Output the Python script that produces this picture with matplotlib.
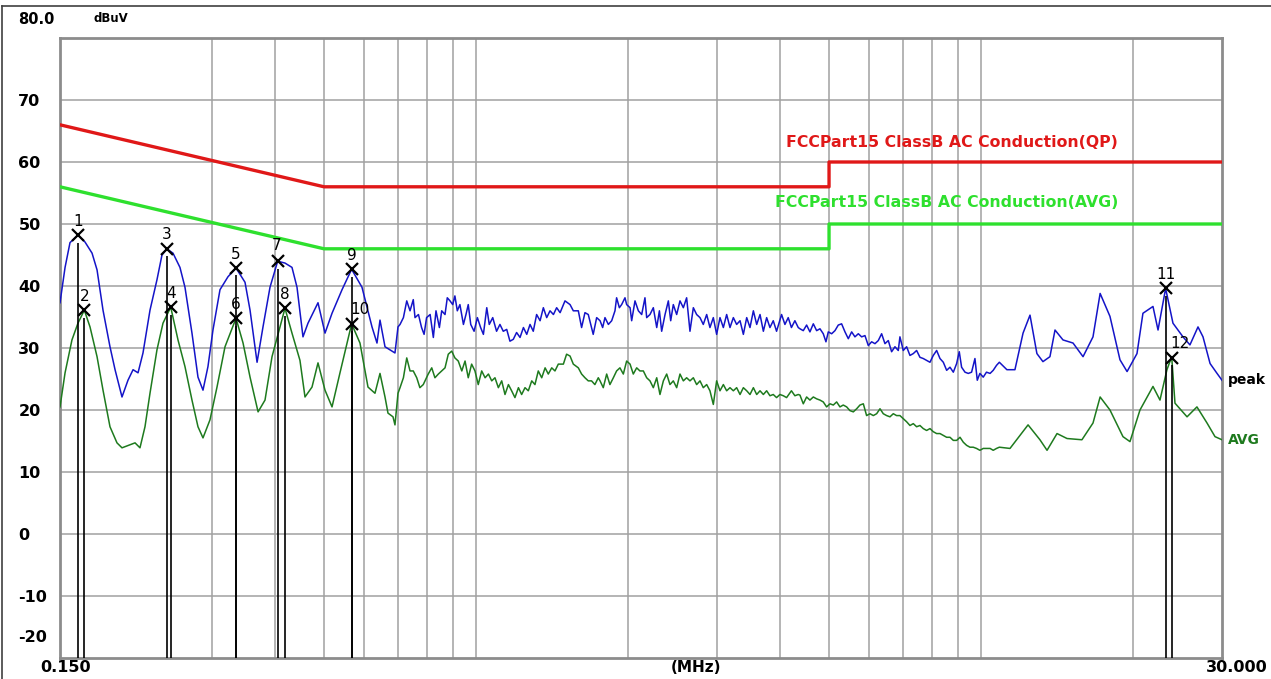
import matplotlib.pyplot as plt
from matplotlib.lines import Line2D

plt.rcParams['font.family'] = 'DejaVu Sans'

# peak trace, (MHz, dBuV)
peak_pts = [
    (0.150, 37.3), (0.1535, 43.0), (0.157, 47.0), (0.1628, 48.2), (0.1681, 47.1), (0.1736, 45.3),
    (0.1776, 42.6), (0.1825, 36.1), (0.1884, 30.2), (0.1928, 26.5), (0.199, 22.1), (0.2045, 24.8),
    (0.2093, 26.5), (0.2141, 26.0), (0.219, 29.2), (0.2261, 36.1), (0.2334, 41.0), (0.2388, 45.0),
    (0.244, 46.0), (0.2511, 45.3), (0.2592, 43.0), (0.2652, 39.8), (0.2738, 32.4), (0.2814, 25.3),
    (0.2879, 23.2), (0.2945, 27.0), (0.3013, 32.9), (0.3111, 39.4), (0.3227, 41.5), (0.3347, 42.9),
    (0.3487, 40.6), (0.3568, 36.1), (0.3684, 27.7), (0.3785, 33.4), (0.3908, 39.8), (0.4047, 44.0),
    (0.4184, 43.7), (0.432, 43.0), (0.442, 39.8), (0.4542, 31.8), (0.4647, 34.0), (0.4864, 37.3),
    (0.5022, 32.4), (0.5185, 35.6), (0.5427, 39.4), (0.567, 42.7), (0.5944, 39.8), (0.6222, 33.4),
    (0.6365, 30.8), (0.6453, 34.5), (0.6602, 30.2), (0.6909, 29.2), (0.7005, 33.4),
    (0.707, 33.8), (0.718, 34.9), (0.729, 37.6), (0.740, 36.0), (0.751, 37.8), (0.757, 34.9),
    (0.769, 35.4), (0.780, 33.3), (0.789, 32.2), (0.798, 34.9), (0.811, 35.4), (0.823, 31.7),
    (0.833, 36.0), (0.846, 33.3), (0.855, 36.0), (0.868, 35.4), (0.877, 38.1), (0.888, 37.6),
    (0.899, 37.0), (0.908, 38.4), (0.918, 36.0), (0.929, 37.0), (0.944, 33.8), (0.955, 35.4),
    (0.965, 37.0), (0.976, 33.8), (0.991, 32.7), (1.006, 34.9), (1.021, 33.3), (1.034, 32.2),
    (1.050, 36.5), (1.062, 33.8), (1.079, 34.9), (1.098, 32.7), (1.115, 33.8), (1.132, 32.7),
    (1.150, 33.0), (1.167, 31.1), (1.185, 31.4), (1.203, 32.5), (1.222, 31.7), (1.241, 33.3),
    (1.260, 32.2), (1.279, 33.8), (1.298, 32.7), (1.318, 35.4), (1.339, 34.4), (1.359, 36.5),
    (1.380, 34.9), (1.401, 36.0), (1.423, 35.4), (1.444, 36.5), (1.467, 35.7), (1.500, 37.6),
    (1.535, 37.0), (1.558, 36.0), (1.594, 36.0), (1.618, 33.3), (1.643, 35.7), (1.668, 35.4),
    (1.706, 32.2), (1.733, 34.9),
    (1.760, 34.4), (1.781, 33.3), (1.800, 34.9), (1.828, 33.8), (1.856, 34.4), (1.884, 36.0),
    (1.898, 38.1), (1.922, 36.5), (1.942, 37.0), (1.972, 38.1), (1.987, 37.0), (2.018, 36.5),
    (2.033, 34.4), (2.064, 37.6), (2.096, 36.0), (2.128, 35.4), (2.160, 38.1), (2.177, 34.9),
    (2.210, 35.4), (2.244, 36.5), (2.279, 33.3), (2.307, 36.0), (2.331, 32.7), (2.367, 35.4),
    (2.403, 37.6), (2.429, 34.4), (2.458, 37.0), (2.496, 35.4), (2.534, 37.6), (2.573, 36.5),
    (2.612, 38.1), (2.652, 32.7), (2.693, 36.5), (2.734, 35.4), (2.776, 34.9), (2.818, 33.8),
    (2.862, 35.4), (2.905, 33.3), (2.950, 34.9), (2.995, 32.2), (3.041, 34.9), (3.088, 33.3),
    (3.135, 35.4), (3.183, 33.3), (3.232, 34.9), (3.281, 33.8), (3.332, 34.4), (3.383, 32.2),
    (3.435, 34.9), (3.487, 33.3), (3.541, 36.0), (3.595, 33.8), (3.650, 35.4), (3.706, 32.7),
    (3.762, 34.9), (3.819, 33.3), (3.877, 34.4), (3.936, 32.7), (4.027, 35.4), (4.089, 33.8),
    (4.151, 34.9), (4.212, 33.3), (4.279, 34.4), (4.345, 33.3),
    (4.379, 33.1), (4.446, 32.8), (4.514, 33.7), (4.583, 32.6), (4.654, 33.9), (4.725, 32.8),
    (4.797, 33.1), (4.870, 32.3), (4.930, 31.0), (4.983, 32.6), (5.060, 32.3), (5.137, 32.8),
    (5.215, 33.7), (5.295, 33.9), (5.377, 32.6), (5.459, 31.5), (5.543, 32.6), (5.627, 31.8),
    (5.714, 32.3), (5.801, 31.8), (5.890, 32.0), (5.980, 30.4), (6.072, 31.0), (6.165, 30.7),
    (6.259, 31.2), (6.355, 32.3), (6.452, 30.7), (6.551, 31.2), (6.651, 29.4), (6.753, 30.2),
    (6.856, 29.6), (6.908, 31.8), (7.014, 29.6), (7.122, 30.2), (7.231, 28.8), (7.342, 29.1),
    (7.454, 29.6), (7.568, 28.5), (7.684, 28.3), (7.802, 28.0), (7.922, 27.7), (8.042, 28.8),
    (8.167, 29.6), (8.292, 28.3), (8.419, 27.7), (8.548, 26.4), (8.679, 26.9), (8.812, 26.1),
    (8.947, 27.5), (9.054, 29.4), (9.151, 26.9), (9.294, 26.1), (9.434, 25.9), (9.578, 26.1),
    (9.725, 28.3), (9.829, 24.8), (9.947, 25.9), (10.10, 25.3), (10.25, 26.1), (10.42, 25.9),
    (10.57, 26.4), (10.73, 27.2), (10.87, 27.7),
    (11.25, 26.5), (11.67, 26.5), (12.11, 32.4), (12.50, 35.3), (12.90, 29.1), (13.26, 27.8),
    (13.69, 28.6), (14.01, 32.9), (14.53, 31.3), (15.21, 30.8), (15.92, 28.6), (16.66, 31.8),
    (17.21, 38.8), (18.00, 35.1), (18.84, 28.1), (19.46, 26.2), (20.36, 29.1), (20.92, 35.6),
    (21.90, 36.7), (22.41, 32.9), (23.2, 39.6), (23.99, 34.0), (25.11, 31.8), (25.92, 30.5),
    (26.89, 33.4), (27.51, 31.8), (28.41, 27.5), (29.33, 25.9), (30.0, 24.8),
]

# average trace, (MHz, dBuV)
avg_pts = [
    (0.150, 20.5), (0.1535, 26.0), (0.1584, 31.3), (0.1628, 34.0), (0.1676, 36.1), (0.172, 33.4),
    (0.1776, 28.6), (0.1825, 23.2), (0.1884, 17.3), (0.1945, 14.7), (0.199, 13.9), (0.2064, 14.4),
    (0.2112, 14.7), (0.216, 13.9), (0.221, 17.3), (0.2261, 22.7), (0.2334, 29.7), (0.2399, 34.0),
    (0.2485, 36.6), (0.2569, 31.3), (0.2652, 27.0), (0.2738, 21.6), (0.2814, 17.3), (0.2879, 15.5),
    (0.2972, 18.4), (0.3069, 23.7), (0.3183, 30.2), (0.3347, 34.8), (0.3456, 30.8), (0.3568, 25.3),
    (0.3701, 19.7), (0.382, 21.6), (0.3944, 28.6), (0.4184, 36.4), (0.432, 32.4), (0.448, 28.0),
    (0.4584, 22.1), (0.4733, 23.7), (0.4864, 27.6), (0.5022, 23.2), (0.5185, 20.5), (0.5377, 26.0),
    (0.567, 33.9), (0.589, 30.8), (0.6109, 23.7), (0.6307, 22.7), (0.6453, 25.9), (0.6602, 22.1),
    (0.6692, 19.5), (0.6847, 18.9), (0.6909, 17.6), (0.7005, 22.7),
    (0.707, 23.6), (0.718, 25.2), (0.729, 28.4), (0.740, 26.3), (0.751, 26.3), (0.763, 25.2),
    (0.774, 23.6), (0.786, 24.1), (0.804, 25.8), (0.817, 26.8), (0.829, 25.2), (0.842, 25.8),
    (0.855, 26.3), (0.868, 26.8), (0.881, 29.0), (0.895, 29.5), (0.908, 28.4), (0.922, 27.9),
    (0.937, 26.3), (0.951, 27.9), (0.965, 25.2), (0.980, 27.4), (0.995, 26.3), (1.010, 24.1),
    (1.026, 26.3), (1.042, 25.2), (1.058, 25.8), (1.074, 24.7), (1.090, 25.2), (1.107, 23.6),
    (1.124, 24.7), (1.141, 22.5), (1.159, 24.1), (1.176, 23.1), (1.194, 22.0), (1.213, 23.6),
    (1.231, 22.5), (1.250, 23.6), (1.269, 23.1), (1.289, 24.7), (1.308, 24.1), (1.328, 26.3),
    (1.349, 25.2), (1.370, 26.8), (1.390, 25.8), (1.412, 26.8), (1.433, 26.3), (1.455, 27.4),
    (1.489, 27.4), (1.511, 29.0), (1.535, 28.7), (1.558, 27.4), (1.594, 26.8), (1.618, 25.8),
    (1.643, 25.2), (1.668, 24.7), (1.693, 24.7), (1.719, 24.1), (1.746, 25.2),
    (1.760, 24.7), (1.786, 23.6), (1.814, 25.8), (1.841, 24.1), (1.870, 25.2), (1.898, 26.3),
    (1.927, 26.8), (1.957, 25.8), (1.987, 27.9), (2.018, 27.4), (2.048, 25.8), (2.080, 26.8),
    (2.111, 26.3), (2.144, 26.3), (2.177, 25.2), (2.210, 24.7), (2.244, 23.6), (2.279, 25.2),
    (2.313, 22.5), (2.349, 24.7), (2.385, 25.8), (2.421, 24.1), (2.458, 24.7), (2.496, 23.6),
    (2.534, 25.8), (2.573, 24.7), (2.612, 25.2), (2.652, 24.7), (2.693, 25.2), (2.734, 24.1),
    (2.776, 24.7), (2.818, 23.6), (2.862, 24.1), (2.905, 23.1), (2.950, 20.9), (2.995, 24.7),
    (3.041, 23.1), (3.088, 24.1), (3.135, 23.1), (3.183, 23.6), (3.232, 23.1), (3.281, 23.6),
    (3.332, 22.5), (3.383, 23.6), (3.435, 23.1), (3.487, 22.5), (3.541, 23.6), (3.595, 22.5),
    (3.650, 23.1), (3.706, 22.5), (3.762, 23.1), (3.819, 22.3), (3.877, 22.5), (3.936, 22.0),
    (3.997, 22.5), (4.059, 22.3), (4.120, 22.0), (4.212, 23.1), (4.279, 22.3), (4.345, 22.5),
    (4.379, 22.4), (4.446, 21.0), (4.514, 22.1), (4.583, 21.6), (4.654, 22.1), (4.725, 21.8),
    (4.797, 21.6), (4.870, 21.3), (4.945, 20.5), (5.021, 21.0), (5.098, 20.8), (5.176, 21.3),
    (5.255, 20.5), (5.335, 20.8), (5.418, 20.5), (5.500, 19.9), (5.585, 19.7), (5.671, 20.2),
    (5.757, 20.8), (5.846, 21.0), (5.934, 19.1), (6.026, 19.4), (6.118, 19.1), (6.212, 19.4),
    (6.308, 20.2), (6.403, 19.4), (6.501, 19.1), (6.601, 18.9), (6.702, 19.4), (6.804, 19.1),
    (6.908, 19.1), (7.014, 18.6), (7.122, 18.1), (7.231, 17.5), (7.342, 17.8), (7.454, 17.3),
    (7.568, 17.5), (7.684, 17.0), (7.802, 16.7), (7.922, 17.0), (8.042, 16.5), (8.167, 16.2),
    (8.292, 16.2), (8.419, 15.9), (8.548, 15.6), (8.679, 15.6), (8.812, 15.1), (8.947, 15.1),
    (9.085, 15.6), (9.223, 14.8), (9.362, 14.3), (9.506, 14.0), (9.649, 14.0), (9.796, 13.8),
    (9.947, 13.5), (10.10, 13.8), (10.25, 13.8), (10.42, 13.8), (10.57, 13.5), (10.73, 13.8),
    (10.87, 14.0),
    (11.41, 13.8), (12.39, 17.6), (13.08, 15.2), (13.51, 13.5), (14.14, 16.2), (14.80, 15.4),
    (15.84, 15.2), (16.66, 17.9), (17.21, 22.1), (18.00, 20.0), (19.10, 15.7), (19.72, 14.9),
    (20.64, 20.0), (21.90, 23.8), (22.61, 21.6), (23.34, 26.5), (23.85, 28.6), (24.21, 21.1),
    (25.58, 18.9), (26.76, 20.5), (28.02, 17.9), (29.06, 15.7), (30.0, 15.2),
]

# limit lines
limit_mhz = [0.15, 0.5, 5.0, 5.0, 30.0]
qp_limit = [66, 56, 56, 60, 60]
avg_limit = [56, 46, 46, 50, 50]

# marked points
marker_ids = ['1', '2', '3', '4', '5', '6', '7', '8', '9', '10', '11', '12']
marker_mhz = [0.163, 0.1676, 0.244, 0.2485, 0.3347, 0.3347, 0.4047, 0.4184, 0.567, 0.567, 23.2, 23.85]
marker_dbuv = [48.2, 36.1, 46.0, 36.6, 42.9, 34.8, 44.0, 36.4, 42.7, 33.9, 39.6, 28.4]

grid_mhz = [0.3, 0.4, 0.5, 0.6, 0.7, 0.8, 0.9, 1, 2, 3, 4, 5, 6, 7, 8, 9, 10, 20]
y_ticks = [70, 60, 50, 40, 30, 20, 10, 0, -10]

peak_mhz, peak_dbuv = zip(*peak_pts)
avg_mhz, avg_dbuv = zip(*avg_pts)

W, H = 1271, 679
fig = plt.figure(figsize=(W / 100, H / 100), dpi=100)
ax = fig.add_axes([60 / W, 1 - 658 / H, 1162 / W, 620 / H])
ax.set_xscale('log')
ax.set_xlim(0.15, 30)
ax.set_ylim(-20, 80)

for f in grid_mhz:
    ax.axvline(f, color='#a0a0a0', lw=1.1, zorder=0)
for v in y_ticks:
    ax.axhline(v, color='#a0a0a0', lw=1.1, zorder=0)

ax.set_xticks([])
ax.set_xticks([], minor=True)
ax.set_yticks(y_ticks)
ax.set_yticklabels([str(v) for v in y_ticks], fontsize=11.5, fontweight='bold')
ax.tick_params(axis='y', length=0, pad=30)
for lab in ax.get_yticklabels():
    lab.set_horizontalalignment('left')

for s in ax.spines.values():
    s.set_color('#8c8c8c')
    s.set_linewidth(2)

# limits
ax.plot(limit_mhz, qp_limit, color='#e01818', lw=2.4, zorder=3)
ax.plot(limit_mhz, avg_limit, color='#2ee02e', lw=2.4, zorder=3)
ax.text(18.7, 63.2, 'FCCPart15 ClassB AC Conduction(QP)', color='#e01818',
        fontsize=11.3, fontweight='bold', ha='right', va='center')
ax.text(18.7, 53.4, 'FCCPart15 ClassB AC Conduction(AVG)', color='#2ee02e',
        fontsize=11.3, fontweight='bold', ha='right', va='center')

# traces
ax.plot(avg_mhz, avg_dbuv, color='#1e7a1e', lw=1.1, zorder=4)
ax.plot(peak_mhz, peak_dbuv, color='#1414c8', lw=1.1, zorder=5)
ax.annotate('peak', xy=(peak_mhz[-1], peak_dbuv[-1]), xytext=(6, 0), textcoords='offset pixels',
            fontsize=10, fontweight='bold', color='black', va='center', ha='left', annotation_clip=False)
ax.annotate('AVG', xy=(avg_mhz[-1], avg_dbuv[-1]), xytext=(6, 0), textcoords='offset pixels',
            fontsize=10, fontweight='bold', color='#1e7a1e', va='center', ha='left', annotation_clip=False)

# markers
label_offsets = {'10': (8, 14), '12': (8, 14), '7': (-1, 16)}
for mid, f, v in zip(marker_ids, marker_mhz, marker_dbuv):
    ax.vlines(f, -20, v - 1.2, color='black', lw=1.2, zorder=6)
    ax.plot(f, v, marker='x', color='black', ms=9, mew=1.6, zorder=7)
    dx, dy = label_offsets.get(mid, (0, 14))
    ax.annotate(mid, xy=(f, v), xytext=(dx, dy), textcoords='offset pixels',
                fontsize=11, ha='center', va='center', color='black', zorder=8)

# axis captions
ax.annotate('80.0', xy=(0, 80), xycoords=('axes fraction', 'data'), xytext=(-42, 18),
            textcoords='offset pixels', fontsize=10.5, fontweight='bold', ha='left', va='center',
            annotation_clip=False)
ax.annotate('dBuV', xy=(0, 80), xycoords=('axes fraction', 'data'), xytext=(33, 20),
            textcoords='offset pixels', fontsize=8.5, fontweight='bold', ha='left', va='center',
            annotation_clip=False)
ax.annotate('-20', xy=(0, -20), xycoords=('axes fraction', 'data'), xytext=(-42, 21),
            textcoords='offset pixels', fontsize=11.5, fontweight='bold', ha='left', va='center',
            annotation_clip=False)
ax.annotate('0.150', xy=(0.15, -20), xycoords='data', xytext=(6, -10),
            textcoords='offset pixels', fontsize=11.5, fontweight='bold', ha='center', va='center',
            annotation_clip=False)
ax.annotate('30.000', xy=(30, -20), xycoords='data', xytext=(15, -10),
            textcoords='offset pixels', fontsize=11.5, fontweight='bold', ha='center', va='center',
            annotation_clip=False)
ax.annotate('(MHz)', xy=(0.5, 0), xycoords='axes fraction', xytext=(55, -10),
            textcoords='offset pixels', fontsize=11, fontweight='bold', ha='center', va='center',
            annotation_clip=False)

# window frame
fig.add_artist(Line2D([2 / W, 2 / W], [0, 1 - 6 / H], color='#404040', lw=1.2))
fig.add_artist(Line2D([2 / W, 1], [1 - 6 / H, 1 - 6 / H], color='#404040', lw=1.2))

fig.savefig('out.png', dpi=100)
